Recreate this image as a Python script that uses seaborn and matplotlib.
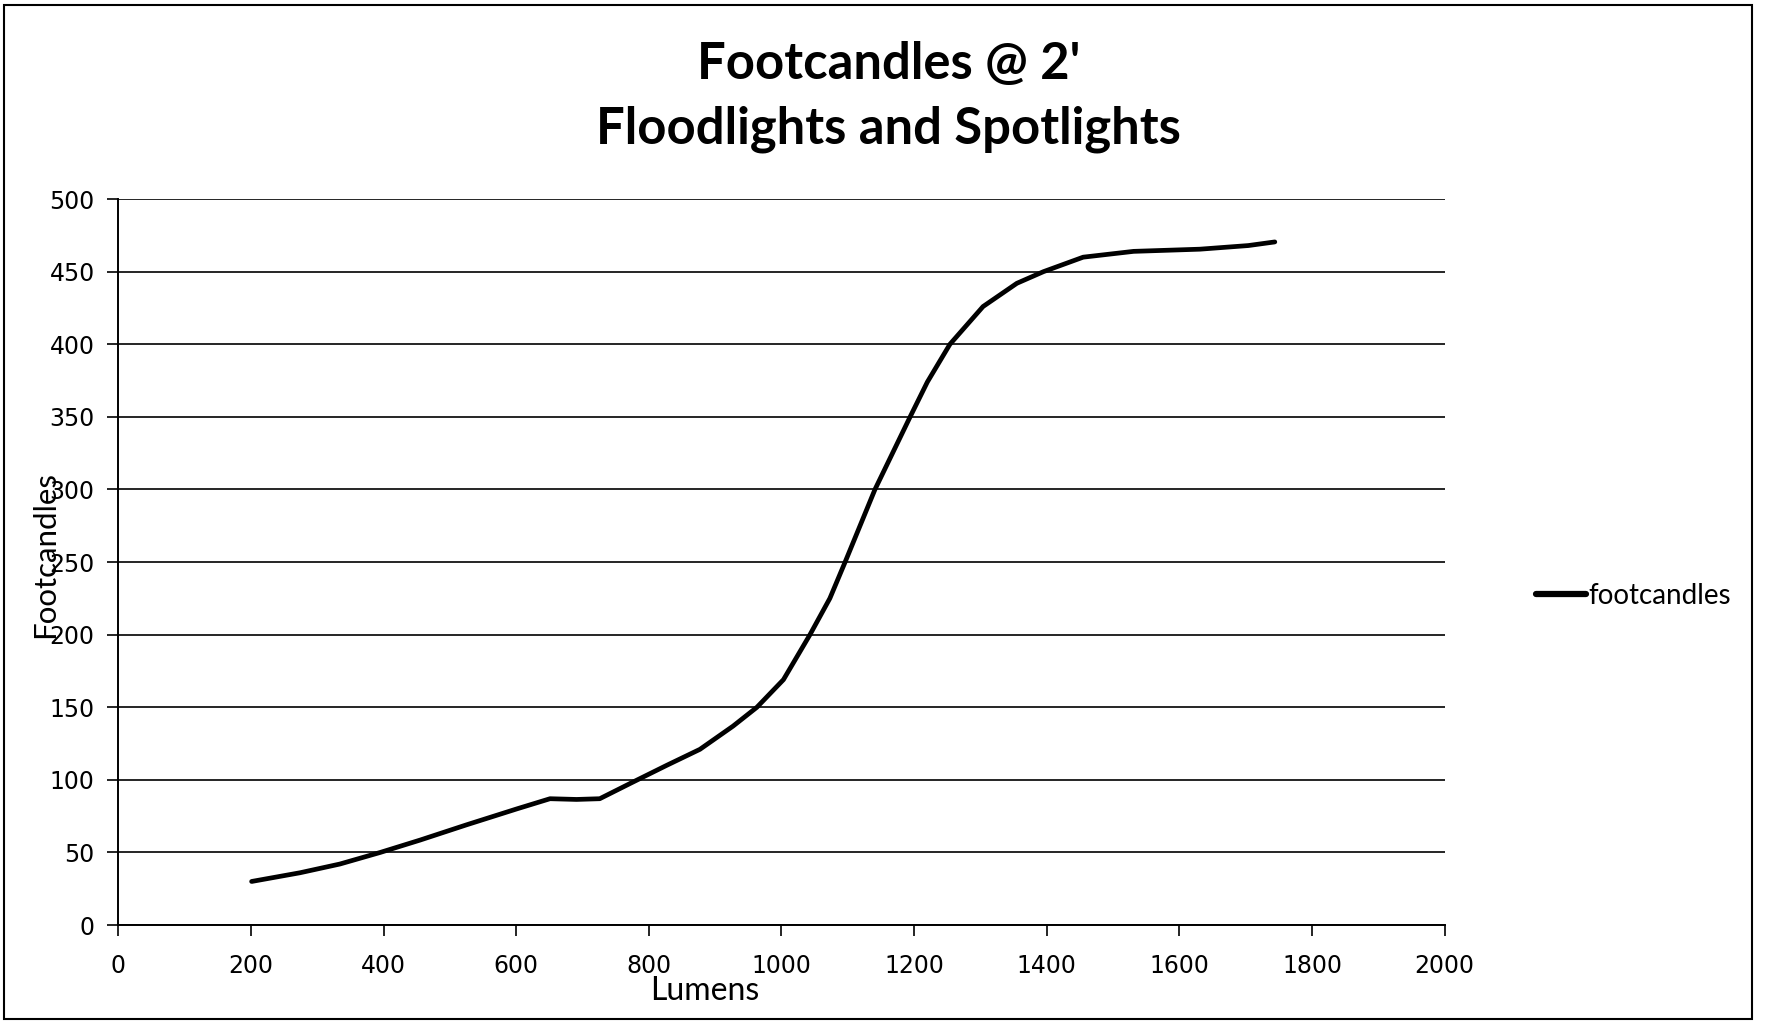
import numpy as np
import pandas as pd
import matplotlib
matplotlib.use("Agg")
import matplotlib.pyplot as plt
from matplotlib.patches import Rectangle
import seaborn as sns

# values
lumens = [201, 274, 334, 395, 455, 525, 601, 651, 691, 726, 774, 827, 877,
          927, 963, 1003, 1043, 1073, 1096, 1141, 1194, 1220, 1254,
          1304, 1355, 1395, 1455, 1531, 1631, 1704, 1744]
footcandles = [30, 36, 42, 50, 58.5, 69, 80, 87, 86.5, 87, 98, 110, 121,
               137, 150, 169, 200, 225, 250, 300, 350, 374, 400,
               426, 442, 450, 460, 464, 465.5, 468, 470.5]

x_ticks = [0, 200, 400, 600, 800, 1000, 1200, 1400, 1600, 1800, 2000]
y_ticks = [0, 50, 100, 150, 200, 250, 300, 350, 400, 450, 500]

title_lines = ["Footcandles @ 2'", "Floodlights and Spotlights"]
x_label = "Lumens"
y_label = "Footcandles"
series_name = "footcandles"

df = pd.DataFrame({"lumens": lumens, "footcandles": footcandles})

sns.set_theme(style="white")
plt.rcParams["font.family"] = ["DejaVu Sans"]
plt.rcParams["text.color"] = "black"

fig = plt.figure(figsize=(17.66, 10.21), dpi=100)
ax = fig.add_axes([0.067, 0.094, 0.751, 0.711])

sns.lineplot(data=df, x="lumens", y="footcandles", color="black", linewidth=3.4,
             label=series_name, ax=ax)

ax.set_xlim(0, 2000)
ax.set_ylim(0, 500)
ax.set_xticks(x_ticks)
ax.set_yticks(y_ticks)
ax.tick_params(axis="both", labelsize=17, colors="black", labelcolor="black",
               direction="out", length=8, width=1.2)
ax.tick_params(axis="x", bottom=True, pad=13)
ax.tick_params(axis="y", left=True, pad=9)

ax.yaxis.grid(True, color="black", linewidth=1.2)
ax.xaxis.grid(False)
for side in ["top", "right"]:
    ax.spines[side].set_visible(False)
for side in ["left", "bottom"]:
    ax.spines[side].set_color("black")
    ax.spines[side].set_linewidth(1.4)

# labels overlap the tick labels, as in the original
ax.set_xlabel(x_label, family="Lato", fontsize=23, color="black")
ax.xaxis.set_label_coords(0.442, -0.07)
ax.set_ylabel(y_label, family="Lato", fontsize=22.5, color="black", va="center")
ax.yaxis.set_label_coords(-0.055, 0.51)

leg = ax.legend(loc="center left", bbox_to_anchor=(1.05, 0.453), frameon=False,
                prop={"family": "Lato", "size": 20}, handlelength=1.8,
                handletextpad=0.1)
for line in leg.get_lines():
    line.set_linewidth(4.5)
for txt in leg.get_texts():
    txt.set_color("black")

fig.text(0.503, 0.937, title_lines[0], ha="center", va="center", color="black",
         family="Lato", fontweight="bold", fontsize=36.5)
fig.text(0.503, 0.873, title_lines[1], ha="center", va="center", color="black",
         family="Lato", fontweight="bold", fontsize=36.5)

fig.patches.append(Rectangle((0.002, 0.002), 0.99, 0.993, transform=fig.transFigure,
                             fill=False, edgecolor="black", linewidth=1.5))

fig.savefig("out.png", dpi=100, facecolor="white")
